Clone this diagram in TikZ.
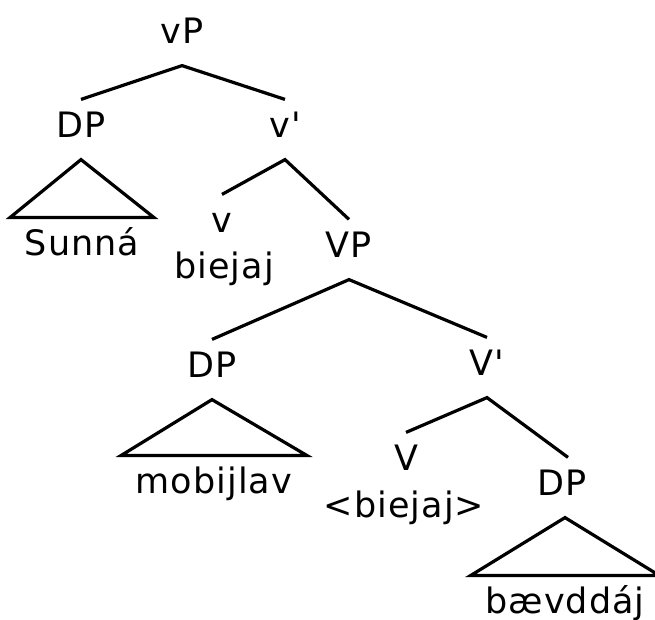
\documentclass[tikz,border=0pt]{standalone}
\usepackage{fontspec}
\newfontfamily\treefont[LetterSpace=3]{DejaVu Sans}
\begin{document}
\begin{tikzpicture}[x=1pt,y=-1pt,line width=3.2pt,
					cat/.style={anchor=base, font=\treefont\fontsize{35}{40}\selectfont, text height=25pt, text depth=10pt, inner ysep=11pt, inner xsep=13pt}
					]
	\useasboundingbox (0,0) rectangle (655,619);
	%labels
	\node[cat] (vP) at (182,43) {vP}; %root
	\node[cat] (DPa) at (81,137) {DP}; %subject
	\node[cat] (vbar) at (285,137) {v'}; %v bar
	\node[cat] (Sunna) at (82,255) {Sunná}; %subject word
	\node[cat] (vhead) at (222,232) {v}; %v head
	\node[cat] (vword) at (224,278) {biejaj}; %moved verb
	\node[cat] (VP) at (349,257) {VP}; %VP
	\node[cat] (DPb) at (212,377) {DP}; %object
	\node[cat] (Vbar) at (487,375) {V'}; %V bar
	\node[cat] (mobijlav) at (214,493) {mobijlav}; %object word
	\node[cat] (Vhead) at (406,470) {V}; %V head
	\node[cat] (Vword) at (404,517) {<biejaj>}; %trace
	\node[cat] (DPc) at (562,495) {DP}; %second object
	\node[cat] (baevddaj) at (565,613) {bævddáj}; %second object word

	%branches
	\draw (DPa.north) -- (vP.south) -- (vbar.north);
	\draw (vhead.north) -- (vbar.south) -- (VP.north);
	\draw (DPb.north) -- (VP.south) -- (Vbar.north);
	\draw (Vhead.north) -- (Vbar.south) -- ([xshift=6pt]DPc.north);

	%triangles
	\draw (DPa.south) -- (Sunna.north west) -- (Sunna.north east) -- cycle;
	\draw (DPb.south) -- (mobijlav.north west) -- (mobijlav.north east) -- cycle;
	\draw ([xshift=3pt]DPc.south) -- (baevddaj.north west) -- (baevddaj.north east) -- cycle;
\end{tikzpicture}
\end{document}
